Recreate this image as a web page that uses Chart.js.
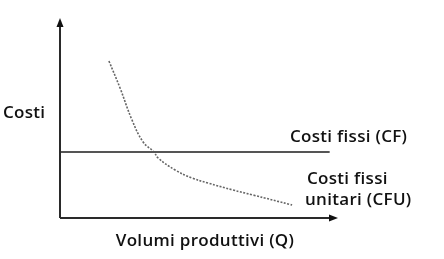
<!DOCTYPE html>
<html>
<head>
<meta charset="utf-8">
<script src="https://cdn.jsdelivr.net/npm/chart.js@4.4.0/dist/chart.umd.min.js"></script>
<style>
html,body{margin:0;padding:0;background:#fff;}
#wrap{width:444px;height:259px;position:relative;}
</style>
</head>
<body>
<div id="wrap"><canvas id="c" width="444" height="259"></canvas></div>
<script>
// DATA (x = volumi, y = costi, arbitrary units 0-100)
const cfX=[0,97];
const cfY=[33,33];
const cfuX=[17.6,21.6,25.9,29.9,33.8,35.3,41.4,47.5,53.2,62.2,69.4,83.5];
const cfuY=[78.5,65,49,38,33,30,24,20,17.5,14,11.5,6.5];
const yLabel='Costi';
const xLabel='Volumi produttivi (Q)';
const cfLabel=['Costi fissi (CF)'];
const cfuLabel=['Costi fissi','unitari (CFU)'];

const FONT='600 17px "Open Sans", "DejaVu Sans", sans-serif';

// assi con frecce + testi
const axesPlugin={
  id:'axes',
  afterDraw(chart){
    const c=chart.ctx, xs=chart.scales.x, ys=chart.scales.y;
    const x0=xs.getPixelForValue(0), x1=xs.getPixelForValue(100);
    const y0=ys.getPixelForValue(0), y1=ys.getPixelForValue(100);
    c.save();
    c.strokeStyle='#2a2a2a';c.fillStyle='#111';c.lineWidth=2;
    c.beginPath();c.moveTo(x0,y0);c.lineTo(x0,y1+4);c.moveTo(x0,y0);c.lineTo(x1-4,y0);c.stroke();
    c.beginPath();c.moveTo(x0,y1);c.lineTo(x0-3.5,y1+9);c.lineTo(x0+3.5,y1+9);c.closePath();c.fill();
    c.beginPath();c.moveTo(x1,y0);c.lineTo(x1-9,y0-3.5);c.lineTo(x1-9,y0+3.5);c.closePath();c.fill();
    c.font=FONT;c.fillStyle='#111';c.textBaseline='alphabetic';
    c.letterSpacing='0.3px';
    c.textAlign='left';
    c.fillText(yLabel,3,118);
    c.fillText(cfLabel[0],290,142);
    c.fillText(cfuLabel[0],307,184);
    c.fillText(cfuLabel[1],305,205);
    c.textAlign='center';
    c.fillText(xLabel,205,246);
    c.restore();
  }
};

new Chart(document.getElementById('c'),{
  type:'line',
  data:{datasets:[
    {label:'CF',data:cfX.map((x,i)=>({x,y:cfY[i]})),borderColor:'#555',borderWidth:2,pointRadius:0,tension:0},
    {label:'CFU',data:cfuX.map((x,i)=>({x,y:cfuY[i]})),borderColor:'#666',borderWidth:1.6,borderDash:[2,1.5],pointRadius:0,tension:0.4}
  ]},
  options:{
    responsive:false,animation:false,
    layout:{padding:{left:60,top:18,right:106,bottom:41}},
    plugins:{legend:{display:false},tooltip:{enabled:false}},
    scales:{
      x:{type:'linear',min:0,max:100,display:false},
      y:{type:'linear',min:0,max:100,display:false}
    }
  },
  plugins:[axesPlugin]
});
</script>
</body>
</html>
